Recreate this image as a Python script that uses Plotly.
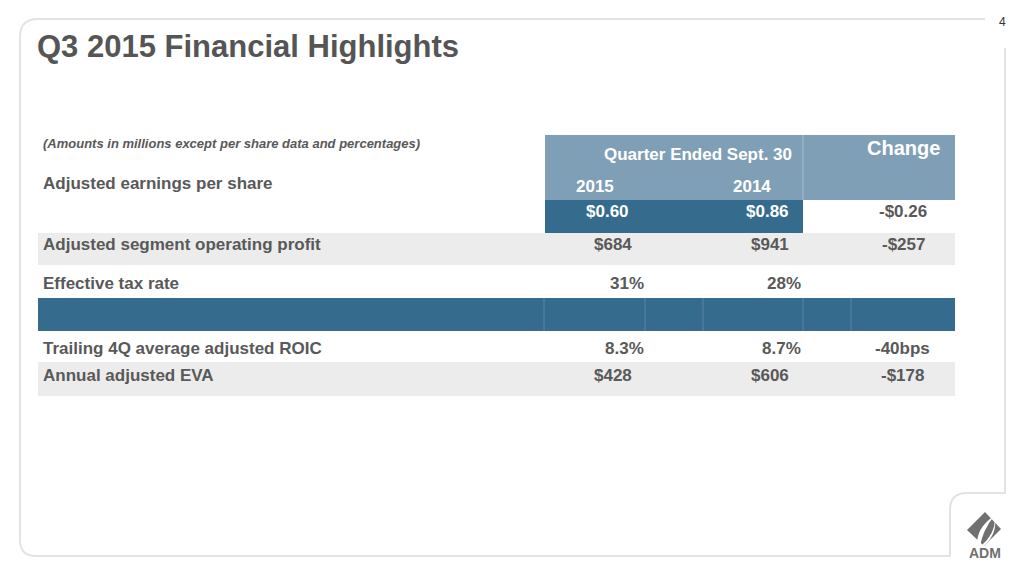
import plotly.graph_objects as go

# ---- data ----
title = "Q3 2015 Financial Highlights"
note = "(Amounts in millions except per share data and percentages)"
col_header = "Quarter Ended Sept. 30"
years = ["2015", "2014"]
change_header = "Change"
row_labels = ["Adjusted earnings per share", "Adjusted segment operating profit",
              "Effective tax rate", "", "Trailing 4Q average adjusted ROIC",
              "Annual adjusted EVA"]
vals_2015 = ["$0.60", "$684", "31%", "", "8.3%", "$428"]
vals_2014 = ["$0.86", "$941", "28%", "", "8.7%", "$606"]
changes = ["-$0.26", "-$257", "", "", "-40bps", "-$178"]

# ---- styles ----
FONT = "Liberation Sans"
TXT = "#595959"
LIGHT = "#7f9fb6"
DARK = "#356b8c"
GRAY = "#ececec"
FRAME = "#e3e3e3"
OFF = 8  # page body margin compensation

fig = go.Figure()
shapes = []
ann = []

def rect(x0, y0, x1, y1, color):
    shapes.append(dict(type="rect", xref="x", yref="y", x0=x0, y0=y0, x1=x1, y1=y1,
                       fillcolor=color, line=dict(width=0), layer="below"))

def text(x, y, s, size=17, color=TXT, anchor="left", bold=True, italic=False, fam=FONT):
    t = s
    if bold:
        t = "<b>" + t + "</b>"
    if italic:
        t = "<i>" + t + "</i>"
    ann.append(dict(x=x, y=y, xref="x", yref="y", text=t, showarrow=False,
                    xanchor=anchor, yanchor="middle",
                    font=dict(family=fam, size=size, color=color)))

# frame
shapes.append(dict(type="path", xref="x", yref="y",
                   path="M 985,19 L 38,19 Q 20,19 20,37 L 20,540 Q 20,556 36,556 L 950,556 L 950,510 Q 950,493 967,493 L 1005,493 L 1005,48",
                   line=dict(color=FRAME, width=2), layer="below"))

# header block
rect(545, 135, 955, 200, LIGHT)
shapes.append(dict(type="line", xref="x", yref="y", x0=803, x1=803, y0=135, y1=200,
                   line=dict(color="#a9bfcf", width=1)))
# EPS dark block
rect(545, 200, 803, 233, DARK)
# gray band rows
rect(38, 233, 955, 265, GRAY)
rect(38, 362, 955, 396, GRAY)
# dark separator band
rect(38, 298, 955, 331, DARK)
for xv in [544, 645, 703, 803, 851]:
    shapes.append(dict(type="line", xref="x", yref="y", x0=xv, x1=xv, y0=298, y1=331,
                       line=dict(color="#5a87a3", width=1)))

# texts
text(35, 46, title, size=31, color="#555555")
text(1002, 22, "4", size=12, color="#333333", anchor="center", bold=False)
text(41, 143, note, size=13, italic=True)
text(698, 154, col_header, size=17, color="white", anchor="center")
text(903, 148, change_header, size=20, color="white", anchor="center")
text(595, 186, years[0], size=17, color="white", anchor="center")
text(752, 186, years[1], size=17, color="white", anchor="center")

row_y = [183, 244, 283, 314, 348, 375]
val_y = [211, 244, 283, 314, 348, 375]
x15 = [631, 634, 646, 0, 646, 634]
x14 = [791, 791, 803, 0, 803, 791]
xch = [929, 927, 0, 0, 932, 926]
for i, lab in enumerate(row_labels):
    if lab:
        text(41, row_y[i], lab)
    c = "white" if i == 0 else TXT
    if vals_2015[i]:
        text(x15[i], val_y[i], vals_2015[i], color=c, anchor="right")
    if vals_2014[i]:
        text(x14[i], val_y[i], vals_2014[i], color=c, anchor="right")
    if changes[i]:
        text(xch[i], val_y[i], changes[i], anchor="right")

# ADM logo
shapes.append(dict(type="path", xref="x", yref="y",
                   path="M 985,512 L 1001,529 L 984,546 L 967,530 Z",
                   fillcolor="#707070", line=dict(width=0)))
shapes.append(dict(type="path", xref="x", yref="y",
                   path="M 977,546 Q 976,528 994,516 Q 983,530 980,546 Z",
                   fillcolor="white", line=dict(width=0)))
shapes.append(dict(type="path", xref="x", yref="y",
                   path="M 981,546 Q 995,534 995,519 Q 997,534 984,546 Z",
                   fillcolor="white", line=dict(width=0)))
text(985, 553, "ADM", size=14, color="#707070", anchor="center")

fig.update_layout(
    width=1024, height=576, margin=dict(l=0, r=0, t=0, b=0),
    paper_bgcolor="white", plot_bgcolor="white",
    xaxis=dict(range=[OFF, 1024 + OFF], visible=False, fixedrange=True),
    yaxis=dict(range=[576 + OFF, OFF], visible=False, fixedrange=True),
    shapes=shapes, annotations=ann, showlegend=False,
)
fig.write_html("out.html")
